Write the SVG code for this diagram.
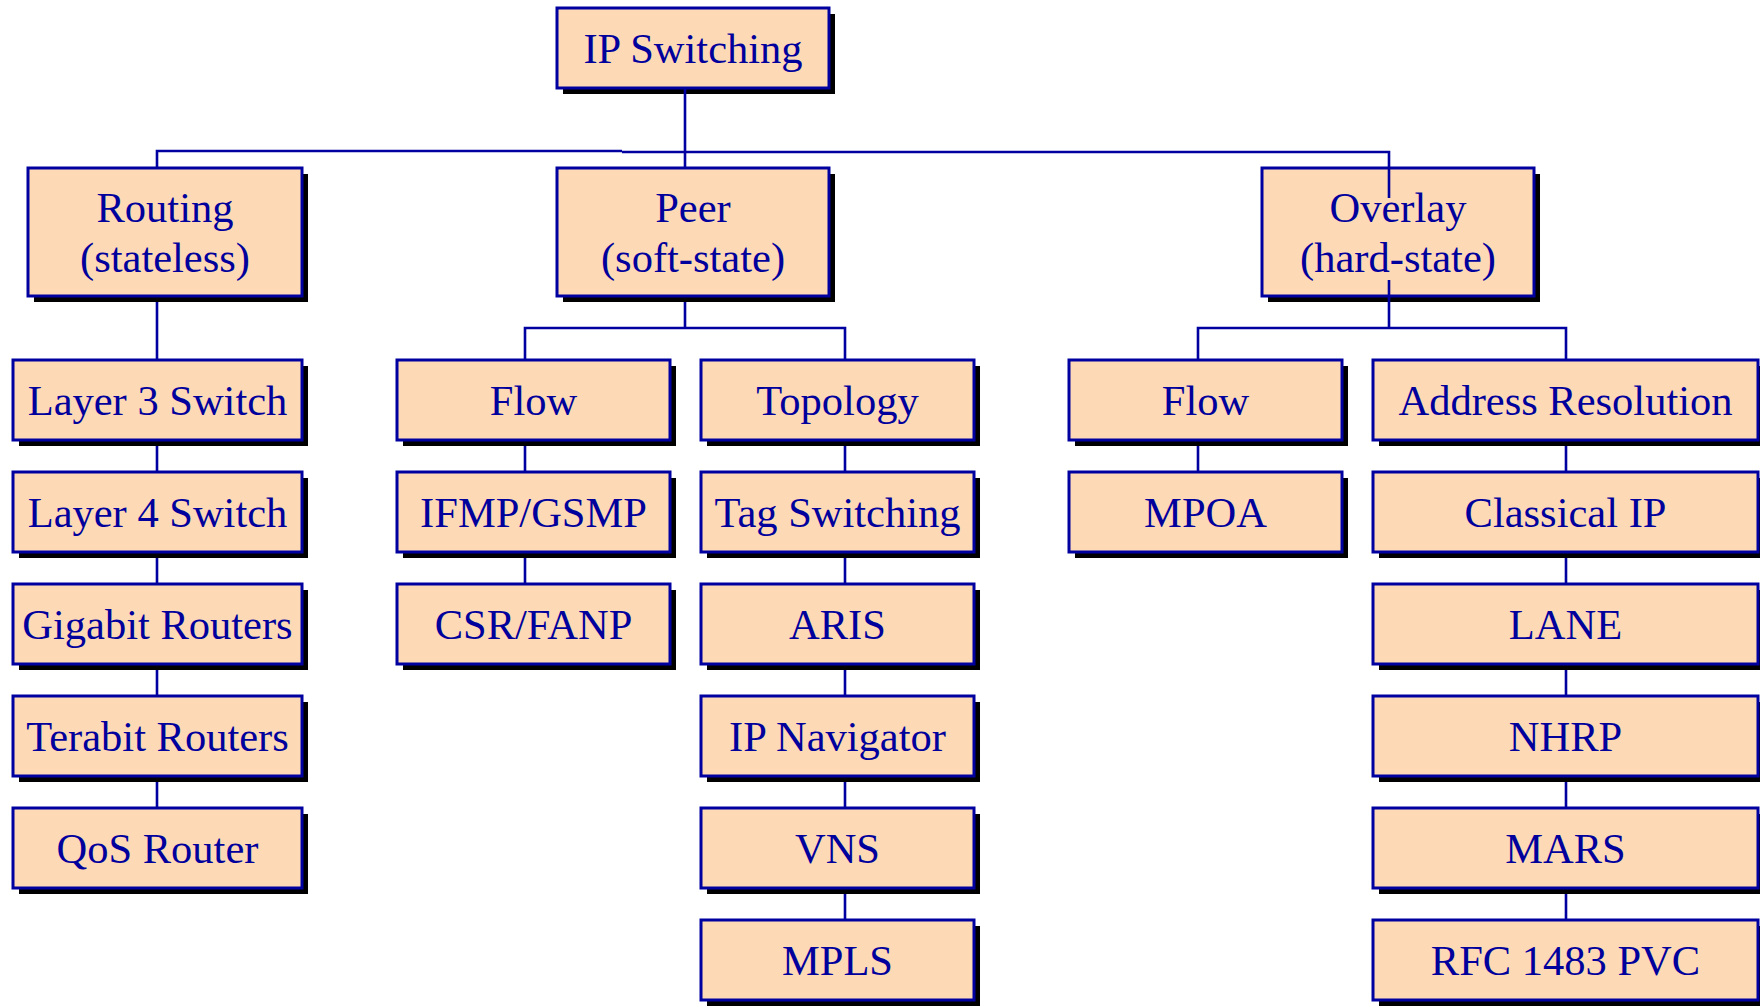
<svg xmlns="http://www.w3.org/2000/svg" width="1760" height="1008" viewBox="0 0 1760 1008">
<style>
.sh{fill:#000}
.bx{fill:#FED9B5;stroke:#0000A0;stroke-width:3}
.t{font-family:"Liberation Serif","Times New Roman",serif;font-size:42.5px;fill:#00009C;text-anchor:middle}
.c{stroke:#0000A0;stroke-width:2.6;fill:none}
</style>
<rect width="1760" height="1008" fill="#fff"/>
<g id="nodes">
<g id="n-ip"><rect class="sh" x="563" y="14" width="272" height="80"/><rect class="bx" x="557" y="8" width="272" height="80"/><text class="t" x="693" y="63">IP Switching</text></g>
<g id="n-routing"><rect class="sh" x="34" y="174" width="274" height="128"/><rect class="bx" x="28" y="168" width="274" height="128"/><text class="t" x="165" y="222">Routing</text><text class="t" x="165" y="272">(stateless)</text></g>
<g id="n-peer"><rect class="sh" x="563" y="174" width="272" height="128"/><rect class="bx" x="557" y="168" width="272" height="128"/><text class="t" x="693" y="222">Peer</text><text class="t" x="693" y="272">(soft-state)</text></g>
<g id="n-overlay"><rect class="sh" x="1268" y="174" width="272" height="128"/><rect class="bx" x="1262" y="168" width="272" height="128"/><text class="t" x="1398" y="222">Overlay</text><text class="t" x="1398" y="272">(hard-state)</text></g>

<g id="n-l3"><rect class="sh" x="19" y="366" width="289" height="80"/><rect class="bx" x="13" y="360" width="289" height="80"/><text class="t" x="157.5" y="415">Layer 3 Switch</text></g>
<g id="n-l4"><rect class="sh" x="19" y="478" width="289" height="80"/><rect class="bx" x="13" y="472" width="289" height="80"/><text class="t" x="157.5" y="527">Layer 4 Switch</text></g>
<g id="n-gig"><rect class="sh" x="19" y="590" width="289" height="80"/><rect class="bx" x="13" y="584" width="289" height="80"/><text class="t" x="157.5" y="639">Gigabit Routers</text></g>
<g id="n-tera"><rect class="sh" x="19" y="702" width="289" height="80"/><rect class="bx" x="13" y="696" width="289" height="80"/><text class="t" x="157.5" y="751">Terabit Routers</text></g>
<g id="n-qos"><rect class="sh" x="19" y="814" width="289" height="80"/><rect class="bx" x="13" y="808" width="289" height="80"/><text class="t" x="157.5" y="863">QoS Router</text></g>

<g id="n-pflow"><rect class="sh" x="403" y="366" width="273" height="80"/><rect class="bx" x="397" y="360" width="273" height="80"/><text class="t" x="533.5" y="415">Flow</text></g>
<g id="n-ifmp"><rect class="sh" x="403" y="478" width="273" height="80"/><rect class="bx" x="397" y="472" width="273" height="80"/><text class="t" x="533.5" y="527">IFMP/GSMP</text></g>
<g id="n-csr"><rect class="sh" x="403" y="590" width="273" height="80"/><rect class="bx" x="397" y="584" width="273" height="80"/><text class="t" x="533.5" y="639">CSR/FANP</text></g>

<g id="n-topo"><rect class="sh" x="707" y="366" width="273" height="80"/><rect class="bx" x="701" y="360" width="273" height="80"/><text class="t" x="837.5" y="415">Topology</text></g>
<g id="n-tag"><rect class="sh" x="707" y="478" width="273" height="80"/><rect class="bx" x="701" y="472" width="273" height="80"/><text class="t" x="837.5" y="527">Tag Switching</text></g>
<g id="n-aris"><rect class="sh" x="707" y="590" width="273" height="80"/><rect class="bx" x="701" y="584" width="273" height="80"/><text class="t" x="837.5" y="639">ARIS</text></g>
<g id="n-ipnav"><rect class="sh" x="707" y="702" width="273" height="80"/><rect class="bx" x="701" y="696" width="273" height="80"/><text class="t" x="837.5" y="751">IP Navigator</text></g>
<g id="n-vns"><rect class="sh" x="707" y="814" width="273" height="80"/><rect class="bx" x="701" y="808" width="273" height="80"/><text class="t" x="837.5" y="863">VNS</text></g>
<g id="n-mpls"><rect class="sh" x="707" y="926" width="273" height="80"/><rect class="bx" x="701" y="920" width="273" height="80"/><text class="t" x="837.5" y="975">MPLS</text></g>

<g id="n-oflow"><rect class="sh" x="1075" y="366" width="273" height="80"/><rect class="bx" x="1069" y="360" width="273" height="80"/><text class="t" x="1205.5" y="415">Flow</text></g>
<g id="n-mpoa"><rect class="sh" x="1075" y="478" width="273" height="80"/><rect class="bx" x="1069" y="472" width="273" height="80"/><text class="t" x="1205.5" y="527">MPOA</text></g>

<g id="n-addr"><rect class="sh" x="1379" y="366" width="385" height="80"/><rect class="bx" x="1373" y="360" width="385" height="80"/><text class="t" x="1565.5" y="415">Address Resolution</text></g>
<g id="n-cip"><rect class="sh" x="1379" y="478" width="385" height="80"/><rect class="bx" x="1373" y="472" width="385" height="80"/><text class="t" x="1565.5" y="527">Classical IP</text></g>
<g id="n-lane"><rect class="sh" x="1379" y="590" width="385" height="80"/><rect class="bx" x="1373" y="584" width="385" height="80"/><text class="t" x="1565.5" y="639">LANE</text></g>
<g id="n-nhrp"><rect class="sh" x="1379" y="702" width="385" height="80"/><rect class="bx" x="1373" y="696" width="385" height="80"/><text class="t" x="1565.5" y="751">NHRP</text></g>
<g id="n-mars"><rect class="sh" x="1379" y="814" width="385" height="80"/><rect class="bx" x="1373" y="808" width="385" height="80"/><text class="t" x="1565.5" y="863">MARS</text></g>
<g id="n-rfc"><rect class="sh" x="1379" y="926" width="385" height="80"/><rect class="bx" x="1373" y="920" width="385" height="80"/><text class="t" x="1565.5" y="975">RFC 1483 PVC</text></g>
</g>
<g id="connectors" class="c">
<path d="M685 89V168"/>
<path d="M157 168V151H622"/>
<path d="M622 152H1389V198"/>
<path d="M157 302V360M157 446V472M157 558V584M157 670V696M157 782V808"/>
<path d="M685 302V328M525 360V328H845V360"/>
<path d="M525 446V472M525 558V584"/>
<path d="M845 446V472M845 558V584M845 670V696M845 782V808M845 894V920"/>
<path d="M1389 280V328M1198 360V328H1566V360"/>
<path d="M1198 446V472"/>
<path d="M1566 446V472M1566 558V584M1566 670V696M1566 782V808M1566 894V920"/>
</g>
</svg>
